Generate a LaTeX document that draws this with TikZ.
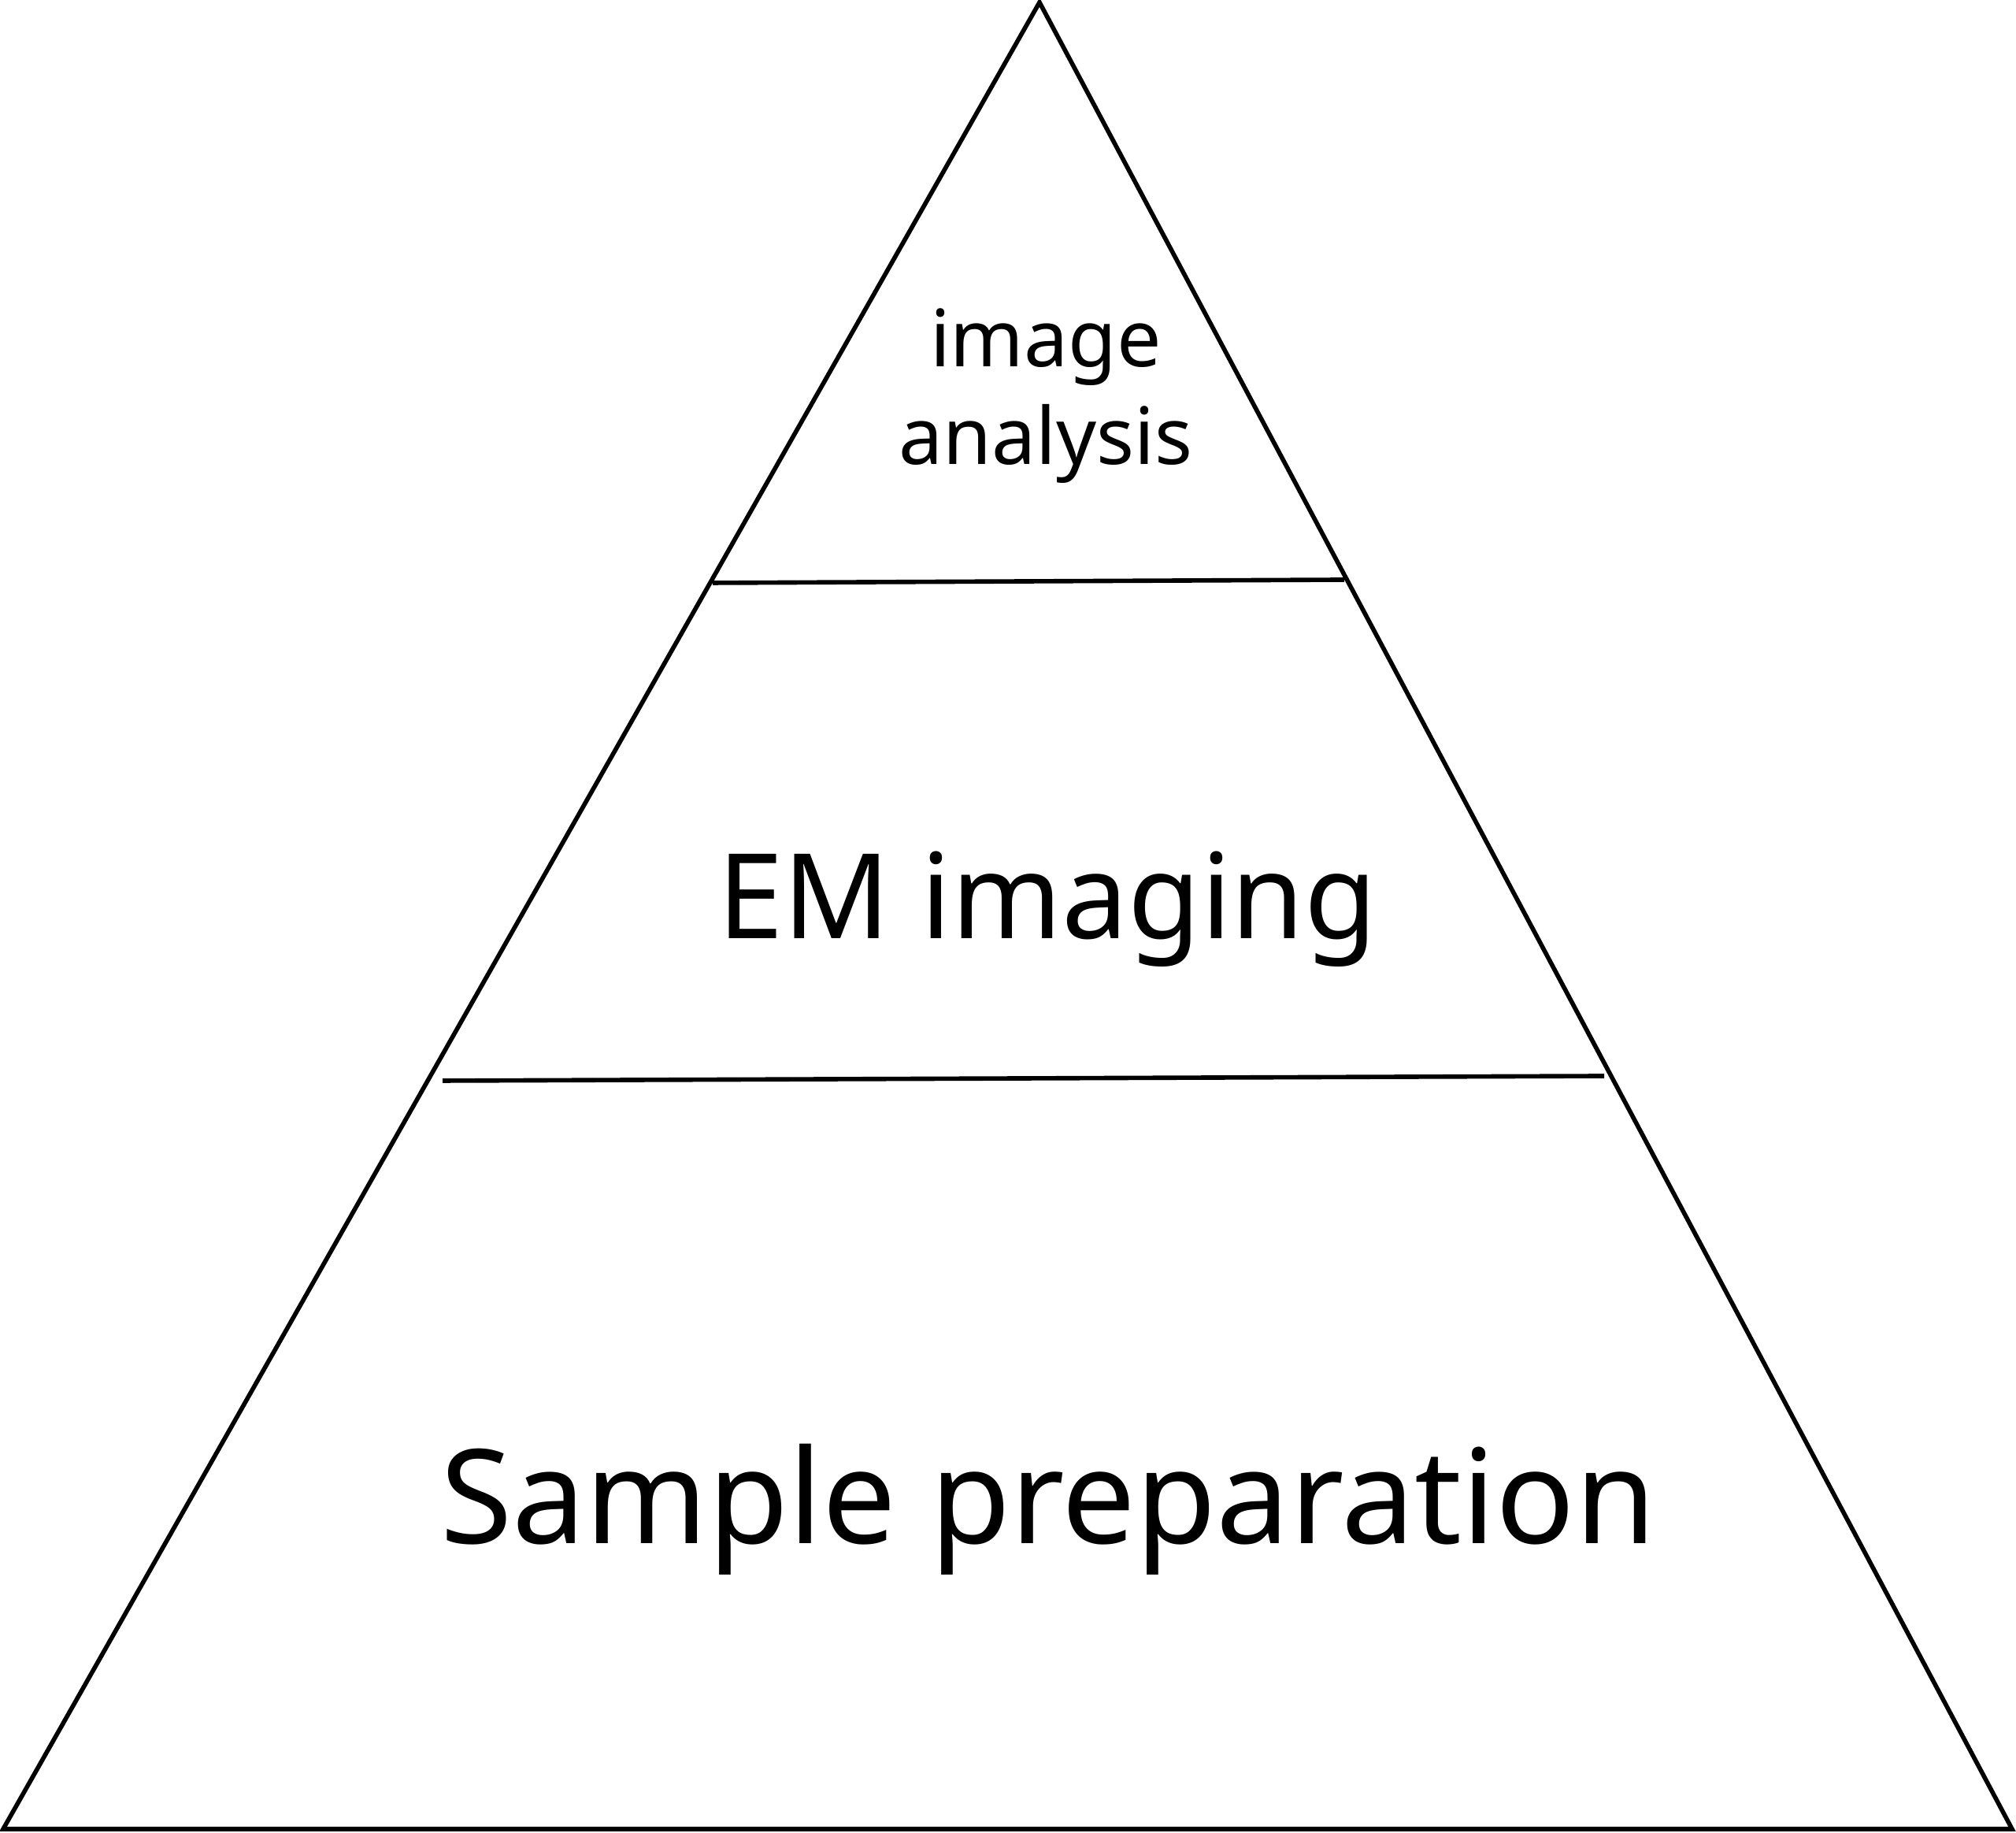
\documentclass[tikz,border=0pt]{standalone}
\usepackage{fontspec}
\setmainfont{Noto Sans}
\usepackage{tikz}
\usetikzlibrary{positioning}

\begin{document}
\begin{tikzpicture}[
    layer/.style={inner sep=0pt, align=center, anchor=base},
    edge/.style={line width=1.6pt, line join=miter}
]
    \useasboundingbox (0,0) rectangle (25.6,23.27);

    % Pyramid corners
    \coordinate (apex) at (13.20,23.24);
    \coordinate (left) at (0.04,0.05);
    \coordinate (right) at (25.55,0.05);
    \draw[edge] (left) -- (apex) -- (right) -- cycle;

    % Layer borders
    \coordinate (topL) at (9.05,15.87);
    \coordinate (topR) at (17.07,15.91);
    \coordinate (midL) at (5.62,9.55);
    \coordinate (midR) at (20.37,9.61);
    \draw[edge] (topL) -- (topR);
    \draw[edge] (midL) -- (midR);

    % Labels
    \node[layer, font=\fontsize{28.5}{35.4}\selectfont] (analysis) at (13.28,17.37) {image\\analysis};
    \node[layer, font=\fontsize{42.7}{51}\selectfont] (imaging) at (13.30,11.35) {EM imaging};
    \node[layer, font=\fontsize{47.3}{57}\selectfont] (prep) at (13.31,3.67) {Sample preparation};

\end{tikzpicture}
\end{document}
